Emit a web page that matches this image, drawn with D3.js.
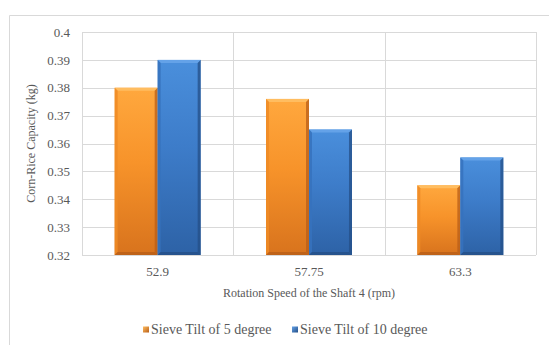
<!DOCTYPE html>
<html>
<head>
<meta charset="utf-8">
<script src="https://cdn.jsdelivr.net/npm/d3@7"></script>
<style>
  html, body { margin: 0; padding: 0; background: #fff; }
  svg { display: block; }
</style>
</head>
<body>
<svg id="chart" width="549" height="345" font-family="Liberation Serif"></svg>
<script>
const categories = ["52.9", "57.75", "63.3"];
const seriesNames = ["Sieve Tilt of 5 degree", "Sieve Tilt of 10 degree"];
const tilt5 = [0.380, 0.376, 0.345];
const tilt10 = [0.390, 0.365, 0.355];
const yTicks = [0.32, 0.33, 0.34, 0.35, 0.36, 0.37, 0.38, 0.39, 0.4];
const yTickLabels = ["0.32", "0.33", "0.34", "0.35", "0.36", "0.37", "0.38", "0.39", "0.4"];

const FONT = "Liberation Serif";
const svg = d3.select("#chart");
const W = 549, H = 345;
const plot = { left: 82, right: 536, top: 32, bottom: 255 };

const palette = [
  { top: "#ffa83e", mid: "#f7932a", bot: "#d8731d", light: "#ffbd60", dark: "#b85e18", side: "#ef8b26" },
  { top: "#4a8fdc", mid: "#3d7cc9", bot: "#2d62a6", light: "#64a2e8", dark: "#244f87", side: "#3672bd" }
];

function setFont(sel, size) {
  sel.attr("font-family", FONT).style("font-family", `"${FONT}"`).style("font-size", size + "px")
    .style("fill", "#595959");
}

// outer chart border
svg.append("path")
  .attr("d", `M9.5,${H} L9.5,15.5 L${W},15.5`)
  .attr("fill", "none").attr("stroke", "#d9d9d9").attr("stroke-width", 1);

const x0 = d3.scaleBand().domain(categories).range([plot.left, plot.right]).paddingInner(0).paddingOuter(0);
const y = d3.scaleLinear().domain([0.32, 0.4]).range([plot.bottom, plot.top]);
const inner = d3.scaleBand().domain(seriesNames)
  .range([0, x0.bandwidth()]).paddingInner(0).paddingOuter(0.76);

// gradients
const defs = svg.append("defs");
palette.forEach((p, i) => {
  const g = defs.append("linearGradient").attr("id", "grad" + i)
    .attr("x1", 0).attr("y1", 0).attr("x2", 0).attr("y2", 1);
  g.append("stop").attr("offset", "0%").attr("stop-color", p.top);
  g.append("stop").attr("offset", "45%").attr("stop-color", p.mid);
  g.append("stop").attr("offset", "100%").attr("stop-color", p.bot);
  const s = defs.append("linearGradient").attr("id", "sq" + i)
    .attr("x1", 0).attr("y1", 0).attr("x2", 1).attr("y2", 1);
  s.append("stop").attr("offset", "0%").attr("stop-color", p.light);
  s.append("stop").attr("offset", "100%").attr("stop-color", p.dark);
});

// horizontal gridlines
svg.append("g").selectAll("line").data(yTicks).join("line")
  .attr("x1", plot.left).attr("x2", plot.right)
  .attr("y1", d => Math.round(y(d)) + 0.5).attr("y2", d => Math.round(y(d)) + 0.5)
  .attr("stroke", "#d9d9d9").attr("stroke-width", 1);

// vertical gridlines (category boundaries) + plot frame
const bounds = categories.map(c => x0(c)).concat([x0.range()[1]]);
svg.append("g").selectAll("line").data(bounds).join("line")
  .attr("x1", d => Math.round(d) + 0.5).attr("x2", d => Math.round(d) + 0.5)
  .attr("y1", plot.top).attr("y2", plot.bottom)
  .attr("stroke", "#d9d9d9").attr("stroke-width", 1);

// bars
const data = categories.map((c, i) => ({ cat: c, vals: [tilt5[i], tilt10[i]] }));
const b = 3;
data.forEach(d => {
  d.vals.forEach((v, si) => {
    const p = palette[si];
    const xa = x0(d.cat) + inner(seriesNames[si]);
    const xb = xa + inner.bandwidth();
    const ya = y(v), yb = y(0.32);
    const g = svg.append("g");
    g.append("rect").attr("x", xa).attr("y", ya).attr("width", xb - xa).attr("height", yb - ya)
      .attr("fill", `url(#grad${si})`);
    g.append("polygon").attr("points", [[xa, ya], [xb, ya], [xb - b, ya + b], [xa + b, ya + b]].join(" "))
      .attr("fill", p.light);
    g.append("polygon").attr("points", [[xa, ya], [xa + b, ya + b], [xa + b, yb - b], [xa, yb]].join(" "))
      .attr("fill", p.side).attr("opacity", 0.85);
    g.append("polygon").attr("points", [[xb, ya], [xb - b, ya + b], [xb - b, yb - b], [xb, yb]].join(" "))
      .attr("fill", p.dark).attr("opacity", 0.75);
    g.append("polygon").attr("points", [[xa, yb], [xb, yb], [xb - b, yb - b], [xa + b, yb - b]].join(" "))
      .attr("fill", p.dark).attr("opacity", 0.8);
  });
});

// y axis labels
const yAxis = d3.axisLeft(y).tickValues(yTicks).tickSize(0).tickPadding(12)
  .tickFormat((d, i) => yTickLabels[i]);
const yg = svg.append("g").attr("transform", `translate(${plot.left},0)`).call(yAxis);
yg.attr("font-family", FONT);
yg.select(".domain").remove();
setFont(yg.selectAll("text"), 13);

// x axis labels
const xAxis = d3.axisBottom(x0).tickSize(0).tickPadding(12);
const xg = svg.append("g").attr("transform", `translate(0,${plot.bottom})`).call(xAxis);
xg.attr("font-family", FONT);
xg.select(".domain").remove();
setFont(xg.selectAll("text"), 13);

// axis titles
setFont(svg.append("text").attr("x", (plot.left + plot.right) / 2).attr("y", 297)
  .attr("text-anchor", "middle").text("Rotation Speed of the Shaft 4 (rpm)"), 12);
setFont(svg.append("text").attr("transform", `translate(35,${(plot.top + plot.bottom) / 2}) rotate(-90)`)
  .attr("text-anchor", "middle").text("Corn-Rice Capacity (kg)"), 12);

// legend
const legendItems = [{ name: seriesNames[0], x: 143 }, { name: seriesNames[1], x: 292 }];
const lg = svg.append("g");
legendItems.forEach((it, i) => {
  lg.append("rect").attr("x", it.x).attr("y", 326.5).attr("width", 6).attr("height", 6)
    .attr("fill", `url(#sq${i})`);
  setFont(lg.append("text").attr("x", it.x + 8).attr("y", 334).text(it.name), 14);
});
</script>
</body>
</html>
